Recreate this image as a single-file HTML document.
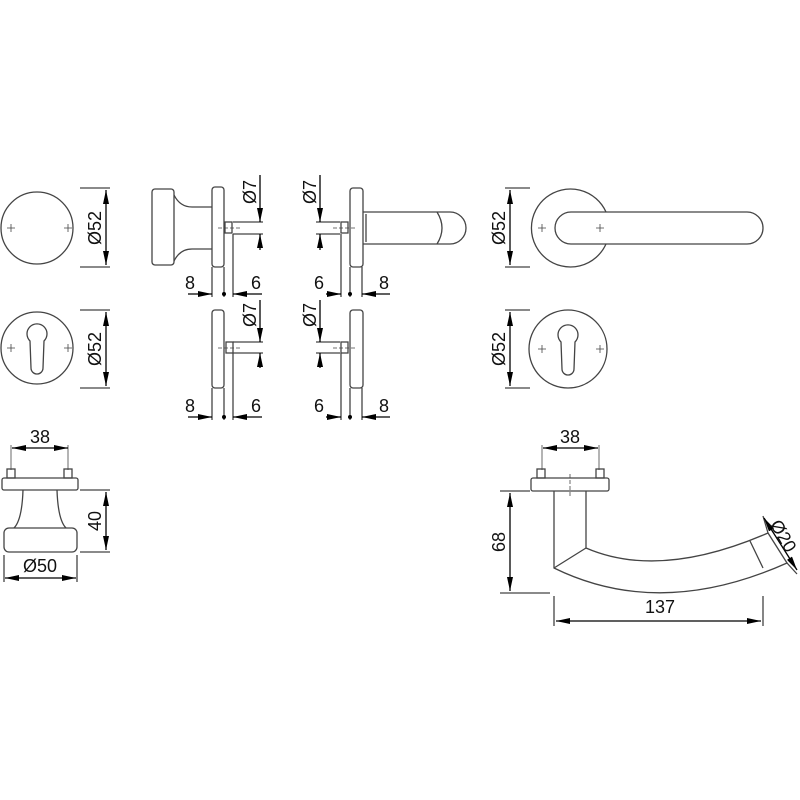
<!DOCTYPE html>
<html><head><meta charset="utf-8"><style>
html,body{margin:0;padding:0;background:#fff}
svg{display:block}
text{font-family:"Liberation Sans",Arial,sans-serif;font-size:18px;fill:#111}
</style></head><body>
<svg width="800" height="800" viewBox="0 0 800 800" xmlns="http://www.w3.org/2000/svg">
<defs>
<marker id="a" viewBox="0 0 14 6" refX="14" refY="3" markerWidth="14" markerHeight="6" markerUnits="userSpaceOnUse" orient="auto-start-reverse"><path d="M0,0 L14,3 L0,6 Z" fill="#000"/></marker>
</defs>
<g fill="none" stroke="#444" stroke-width="1.3">
<circle cx="37" cy="228" r="36"/>
<path d="M7,228h8M11,224v8M64,228h8M68,224v8" stroke-width="0.8"/>
<path d="M80,188h30M80,267h30"/>
<line x1="106" y1="190" x2="106" y2="265" marker-start="url(#a)" marker-end="url(#a)" stroke="#000"/>
<rect x="152" y="189" width="22" height="76" rx="3"/>
<path d="M212,207 L192,207 Q180,207 174,195 M212,249 L192,249 Q180,249 174,261"/>
<rect x="212" y="187" width="12" height="80" rx="3"/>
<rect x="225" y="222" width="7" height="11"/>
<path d="M218,228h22" stroke-dasharray="4,2" stroke-width="0.8"/>
<path d="M233,222h30M233,234h30"/>
<line x1="260" y1="175" x2="260" y2="222" marker-end="url(#a)" stroke="#000"/>
<line x1="260" y1="250" x2="260" y2="234" marker-end="url(#a)" stroke="#000"/>
<path d="M212,267v30M224,267v30M233,234v63"/>
<line x1="188" y1="294" x2="212" y2="294" marker-end="url(#a)" stroke="#000"/>
<line x1="262" y1="294" x2="233" y2="294" marker-end="url(#a)" stroke="#000"/>
<circle cx="37" cy="348" r="36"/>
<path d="M30,341 A10,10 0 1 1 44,341 L43,368 A6,6 0 0 1 31,368 Z"/>
<path d="M7,348h8M11,344v8M64,348h8M68,344v8" stroke-width="0.8"/>
<path d="M80,310h30M80,388h30"/>
<line x1="106" y1="312" x2="106" y2="386" marker-start="url(#a)" marker-end="url(#a)" stroke="#000"/>
<rect x="212" y="310" width="12" height="78" rx="3"/>
<rect x="226" y="342" width="7" height="11"/>
<path d="M218,348h22" stroke-dasharray="4,2" stroke-width="0.8"/>
<path d="M233,342h30M233,353h30"/>
<line x1="260" y1="300" x2="260" y2="342" marker-end="url(#a)" stroke="#000"/>
<line x1="260" y1="368" x2="260" y2="353" marker-end="url(#a)" stroke="#000"/>
<path d="M212,388v32M224,388v32M233,353v67"/>
<line x1="188" y1="417" x2="212" y2="417" marker-end="url(#a)" stroke="#000"/>
<line x1="262" y1="417" x2="233" y2="417" marker-end="url(#a)" stroke="#000"/>
<rect x="350" y="188" width="13" height="79" rx="3"/>
<path d="M363,212 L450,212 A16,16 0 0 1 450,244 L363,244 M366,214v28 M437,212 Q447,228 437,244"/>
<rect x="341" y="222" width="7" height="11"/>
<path d="M333,228h22" stroke-dasharray="4,2" stroke-width="0.8"/>
<path d="M340,222h-24M340,234h-24"/>
<line x1="320" y1="175" x2="320" y2="222" marker-end="url(#a)" stroke="#000"/>
<line x1="320" y1="250" x2="320" y2="234" marker-end="url(#a)" stroke="#000"/>
<path d="M341,234v63M350,267v30M362,267v30"/>
<line x1="326" y1="294" x2="341" y2="294" marker-end="url(#a)" stroke="#000"/>
<line x1="390" y1="294" x2="362" y2="294" marker-end="url(#a)" stroke="#000"/>
<rect x="350" y="310" width="13" height="78" rx="3"/>
<rect x="341" y="342" width="7" height="11"/>
<path d="M333,348h22" stroke-dasharray="4,2" stroke-width="0.8"/>
<path d="M340,342h-24M340,353h-24"/>
<line x1="320" y1="300" x2="320" y2="342" marker-end="url(#a)" stroke="#000"/>
<line x1="320" y1="368" x2="320" y2="353" marker-end="url(#a)" stroke="#000"/>
<path d="M341,353v67M350,388v32M362,388v32"/>
<line x1="326" y1="417" x2="341" y2="417" marker-end="url(#a)" stroke="#000"/>
<line x1="390" y1="417" x2="362" y2="417" marker-end="url(#a)" stroke="#000"/>
<path d="M606,212 A39,39 0 1 0 606,244"/>
<path d="M571,212 L747,212 A16,16 0 0 1 747,244 L571,244 A16,16 0 0 1 571,212 Z" fill="#fff"/>
<path d="M538,228h8M542,224v8M596,228h8M600,224v8" stroke-width="0.8"/>
<path d="M505,188h25M505,267h25"/>
<line x1="510" y1="190" x2="510" y2="265" marker-start="url(#a)" marker-end="url(#a)" stroke="#000"/>
<circle cx="568" cy="349" r="39"/>
<path d="M561,342 A10,10 0 1 1 575,342 L574,369 A6,6 0 0 1 562,369 Z"/>
<path d="M538,349h8M542,345v8M596,349h8M600,345v8" stroke-width="0.8"/>
<path d="M505,310h25M505,388h25"/>
<line x1="510" y1="312" x2="510" y2="386" marker-start="url(#a)" marker-end="url(#a)" stroke="#000"/>
<path d="M11,445v25M68,445v25" stroke-width="0.8"/>
<line x1="12" y1="448" x2="68" y2="448" marker-start="url(#a)" marker-end="url(#a)" stroke="#000"/>
<rect x="7" y="469" width="8" height="9"/><rect x="64" y="469" width="8" height="9"/>
<rect x="2" y="478" width="76" height="12" rx="2"/>
<path d="M23,490 Q22,520 14,528 M57,490 Q58,520 66,528"/>
<rect x="4" y="528" width="73" height="24" rx="5"/>
<path d="M80,490h30M80,552h30"/>
<line x1="106" y1="492" x2="106" y2="550" marker-start="url(#a)" marker-end="url(#a)" stroke="#000"/>
<path d="M4,555v27M77,555v27"/>
<line x1="5" y1="578" x2="76" y2="578" marker-start="url(#a)" marker-end="url(#a)" stroke="#000"/>
<path d="M542,445v25M599,445v25" stroke-width="0.8"/>
<line x1="543" y1="448" x2="598" y2="448" marker-start="url(#a)" marker-end="url(#a)" stroke="#000"/>
<rect x="537" y="469" width="8" height="9"/><rect x="596" y="469" width="8" height="9"/>
<rect x="531" y="478" width="78" height="13" rx="2"/>
<path d="M570,474v22" stroke-dasharray="4,2" stroke-width="0.8"/>
<path d="M554,491 L554,568 Q660,620 787,563 L768,533 Q660,580 586,548 L586,491"/>
<path d="M554,568 L586,548 M750,541 L763,568"/>
<path d="M500,491h30M500,593h50"/>
<line x1="510" y1="493" x2="510" y2="591" marker-start="url(#a)" marker-end="url(#a)" stroke="#000"/>
<path d="M554,596v30M763,596v30"/>
<line x1="556" y1="621" x2="761" y2="621" marker-start="url(#a)" marker-end="url(#a)" stroke="#000"/>
<path d="M768,533 L763,516 M787,563 L797,574"/>
<line x1="764" y1="518" x2="797" y2="570" stroke="#000" marker-start="url(#a)" marker-end="url(#a)"/>
</g>
<circle cx="224" cy="294" r="2" fill="#000"/><circle cx="224" cy="417" r="2" fill="#000"/>
<circle cx="350" cy="294" r="2" fill="#000"/><circle cx="350" cy="417" r="2" fill="#000"/>
<g>
<text transform="translate(101,228) rotate(-90)" text-anchor="middle">Ø52</text>
<text transform="translate(101,349) rotate(-90)" text-anchor="middle">Ø52</text>
<text transform="translate(505,228) rotate(-90)" text-anchor="middle">Ø52</text>
<text transform="translate(505,349) rotate(-90)" text-anchor="middle">Ø52</text>
<text transform="translate(256,192) rotate(-90)" text-anchor="middle">Ø7</text>
<text transform="translate(256,315) rotate(-90)" text-anchor="middle">Ø7</text>
<text transform="translate(316,192) rotate(-90)" text-anchor="middle">Ø7</text>
<text transform="translate(316,315) rotate(-90)" text-anchor="middle">Ø7</text>
<text x="190" y="289" text-anchor="middle">8</text><text x="256" y="289" text-anchor="middle">6</text>
<text x="190" y="412" text-anchor="middle">8</text><text x="256" y="412" text-anchor="middle">6</text>
<text x="319" y="289" text-anchor="middle">6</text><text x="384" y="289" text-anchor="middle">8</text>
<text x="319" y="412" text-anchor="middle">6</text><text x="384" y="412" text-anchor="middle">8</text>
<text x="40" y="443" text-anchor="middle">38</text>
<text x="570" y="443" text-anchor="middle">38</text>
<text transform="translate(101,521) rotate(-90)" text-anchor="middle">40</text>
<text x="40" y="572" text-anchor="middle">Ø50</text>
<text transform="translate(505,542) rotate(-90)" text-anchor="middle">68</text>
<text x="660" y="613" text-anchor="middle">137</text>
<text transform="translate(778,539) rotate(60)" text-anchor="middle">Ø20</text>
</g>
</svg>
</body></html>
